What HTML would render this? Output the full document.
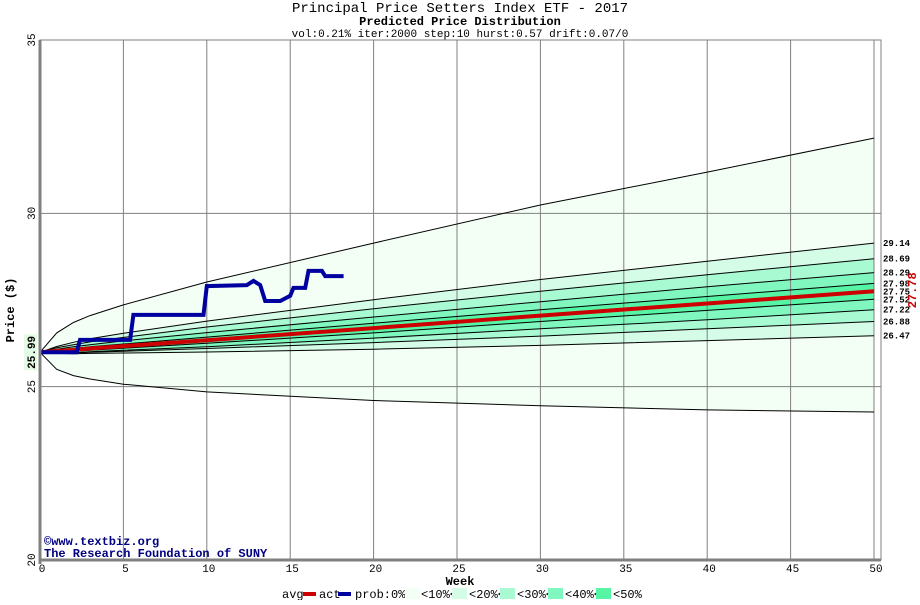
<!DOCTYPE html>
<html><head><meta charset="utf-8"><style>
body{margin:0;background:#fff;}
svg text{font-family:"Liberation Mono",monospace;}
</style></head><body>
<svg width="920" height="600" viewBox="0 0 920 600" xmlns="http://www.w3.org/2000/svg">
<text x="460" y="12" text-anchor="middle" font-size="14">Principal Price Setters Index ETF - 2017</text>
<text x="460" y="25" text-anchor="middle" font-size="12" font-weight="bold">Predicted Price Distribution</text>
<text x="460" y="37" text-anchor="middle" font-size="11">vol:0.21% iter:2000 step:10 hurst:0.57 drift:0.07/0</text>
<g id="plot"></g>
<g id="axes"></g>
<text x="44" y="545" font-size="12" font-weight="bold" fill="#000080">©www.textbiz.org</text>
<text x="44" y="557" font-size="12" font-weight="bold" fill="#000080">The Research Foundation of SUNY</text>
<text x="460" y="585" text-anchor="middle" font-size="12" font-weight="bold">Week</text>
<text transform="translate(14,310) rotate(-90)" text-anchor="middle" font-size="12" font-weight="bold">Price ($)</text>
<g font-size="12">
<text x="282" y="598">avg</text>
<rect x="303" y="592" width="13" height="4" fill="#cc0000"/>
<text x="319" y="598">act</text>
<rect x="338" y="592" width="13" height="4" fill="#0000a0"/>
<text x="355" y="598">prob:0%&lt;</text>
<rect x="405" y="588" width="15" height="11" fill="#f3fff5"/>
<text x="421" y="598">&lt;10%&lt;</text>
<rect x="452" y="588" width="15" height="11" fill="#d4fce6"/>
<text x="469" y="598">&lt;20%&lt;</text>
<rect x="500" y="588" width="15" height="11" fill="#a8fad2"/>
<text x="517" y="598">&lt;30%&lt;</text>
<rect x="548" y="588" width="15" height="11" fill="#80f7bf"/>
<text x="565" y="598">&lt;40%&lt;</text>
<rect x="596" y="588" width="15" height="11" fill="#55f5a5"/>
<text x="613" y="598">&lt;50%</text>
</g>
</svg>
<script>
const weeks = [0, 1, 2, 3, 5, 10, 20, 30, 40, 50];
const outerUpper = [25.99, 26.55, 26.85, 27.05, 27.36, 28.02, 29.14, 30.24, 31.19, 32.17];
const p10Upper = [25.99, 26.16, 26.28, 26.38, 26.54, 26.89, 27.51, 28.09, 28.62, 29.14];
const p20Upper = [25.99, 26.12, 26.21, 26.29, 26.42, 26.72, 27.25, 27.75, 28.23, 28.69];
const p30Upper = [25.99, 26.08, 26.15, 26.21, 26.32, 26.56, 27.01, 27.45, 27.88, 28.29];
const p40Upper = [25.99, 26.05, 26.10, 26.15, 26.23, 26.43, 26.83, 27.22, 27.60, 27.98];
const avgLine = [25.99, 26.03, 26.06, 26.10, 26.17, 26.34, 26.69, 27.05, 27.40, 27.75];
const p40Lower = [25.99, 26.00, 26.02, 26.05, 26.11, 26.25, 26.55, 26.88, 27.20, 27.52];
const p30Lower = [25.99, 25.98, 25.98, 26.01, 26.05, 26.15, 26.40, 26.67, 26.93, 27.22];
const p20Lower = [25.99, 25.97, 25.97, 25.99, 26.02, 26.10, 26.27, 26.46, 26.67, 26.88];
const p10Lower = [25.99, 25.96, 25.95, 25.96, 25.97, 26.00, 26.08, 26.19, 26.33, 26.47];
const outerLower = [25.99, 25.50, 25.32, 25.22, 25.07, 24.85, 24.60, 24.45, 24.33, 24.27];
const actWeeks = [0, 2.2, 2.4, 5.4, 5.6, 9.8, 10, 12.4, 12.8, 13.2, 13.5, 14.4, 15, 15.2, 15.9, 16.1, 16.9, 17.1, 18.2];
const actPrices = [25.99, 25.99, 26.35, 26.35, 27.07, 27.07, 27.9, 27.93, 28.05, 27.93, 27.47, 27.47, 27.62, 27.85, 27.85, 28.34, 28.34, 28.19, 28.19];
const endLabels = ["29.14", "28.69", "28.29", "27.98", "27.75", "27.52", "27.22", "26.88", "26.47"];
const yTicks = [20, 25, 30, 35];
const xTicks = [0, 5, 10, 15, 20, 25, 30, 35, 40, 45, 50];
const startPrice = 25.99;
const lastAvg = 27.78;

const NS = "http://www.w3.org/2000/svg";
const X0 = 40, XR = 881, Y0 = 560, YT = 40;
const xs = w => X0 + w * (874 - X0) / 50;
const ys = p => Y0 - (p - 20) * (Y0 - YT) / 15;
const plot = document.getElementById('plot');
const axes = document.getElementById('axes');
function mk(tag, attrs, parent) {
  const e = document.createElementNS(NS, tag);
  for (const k in attrs) e.setAttribute(k, attrs[k]);
  parent.appendChild(e);
  return e;
}
function pts(a, b) { return a.map((w, i) => xs(w).toFixed(1) + ',' + ys(b[i]).toFixed(1)); }

const bandDefs = [
  [outerUpper, outerLower, '#f3fff5'],
  [p10Upper, p10Lower, '#d4fce6'],
  [p20Upper, p20Lower, '#a8fad2'],
  [p30Upper, p30Lower, '#80f7bf'],
  [p40Upper, p40Lower, '#55f5a5']
];
bandDefs.forEach((b, i) => {
  const p = mk('polygon', { points: pts(weeks, b[0]).concat(pts(weeks, b[1]).reverse()).join(' '), fill: b[2] }, plot);
  
  
});
xTicks.forEach(w => {
  if (w === 0) return;
  const l = mk('line', { x1: xs(w), x2: xs(w), y1: YT, y2: Y0, stroke: '#808080', 'stroke-width': 1 }, plot);
  
  
});
yTicks.forEach(p => {
  const l = mk('line', { x1: X0, x2: XR, y1: ys(p), y2: ys(p), stroke: '#808080', 'stroke-width': 1 }, plot);
  
  
});
[outerUpper, p10Upper, p20Upper, p30Upper, p40Upper, p40Lower, p30Lower, p20Lower, p10Lower, outerLower].forEach((s, i) => {
  const l = mk('polyline', { points: pts(weeks, s).join(' '), fill: 'none', stroke: '#000', 'stroke-width': 1 }, plot);
  
  
});
const avg = mk('polyline', { points: pts(weeks, avgLine).join(' '), fill: 'none', stroke: '#cc0000', 'stroke-width': 4 }, plot);


const act = mk('polyline', { points: pts(actWeeks, actPrices).join(' '), fill: 'none', stroke: '#0000a0', 'stroke-width': 4 }, plot);



const fr = mk('rect', { x: X0, y: YT, width: XR - X0, height: Y0 - YT, fill: 'none', stroke: '#808080', 'stroke-width': 1 }, axes);


const la = mk('line', { x1: X0, x2: X0, y1: YT, y2: Y0 + 4, stroke: '#808080', 'stroke-width': 3 }, axes);


const ba = mk('line', { x1: X0, x2: XR, y1: Y0, y2: Y0, stroke: '#808080', 'stroke-width': 3 }, axes);


yTicks.forEach(p => {
  const t = mk('text', { transform: `translate(35,${ys(p)}) rotate(-90)`, 'text-anchor': 'middle', 'font-size': 11 }, axes);
  t.textContent = p;
  
  
});
xTicks.forEach(w => {
  const t = mk('text', { x: xs(w) + 2, y: 572, 'text-anchor': 'middle', 'font-size': 11 }, axes);
  t.textContent = w;
  
  
});
const bg = mk('rect', { x: 24, y: ys(startPrice) - 18, width: 13, height: 36, fill: '#e6fbe6' }, axes);


const sp = mk('text', { transform: `translate(35,${ys(startPrice)}) rotate(-90)`, 'text-anchor': 'middle', 'font-size': 11, 'font-weight': 'bold' }, axes);
sp.textContent = startPrice.toFixed(2);


endLabels.forEach(v => {
  const t = mk('text', { x: 883, y: ys(+v) + 3, 'font-size': 9, 'font-weight': 'bold' }, axes);
  t.textContent = v;
  
  
});
const la2 = mk('text', { transform: `translate(916,${ys(lastAvg)}) rotate(-90)`, 'text-anchor': 'middle', 'font-size': 12, 'font-weight': 'bold', fill: '#cc0000' }, axes);
la2.textContent = lastAvg.toFixed(2);


</script>
</body></html>
